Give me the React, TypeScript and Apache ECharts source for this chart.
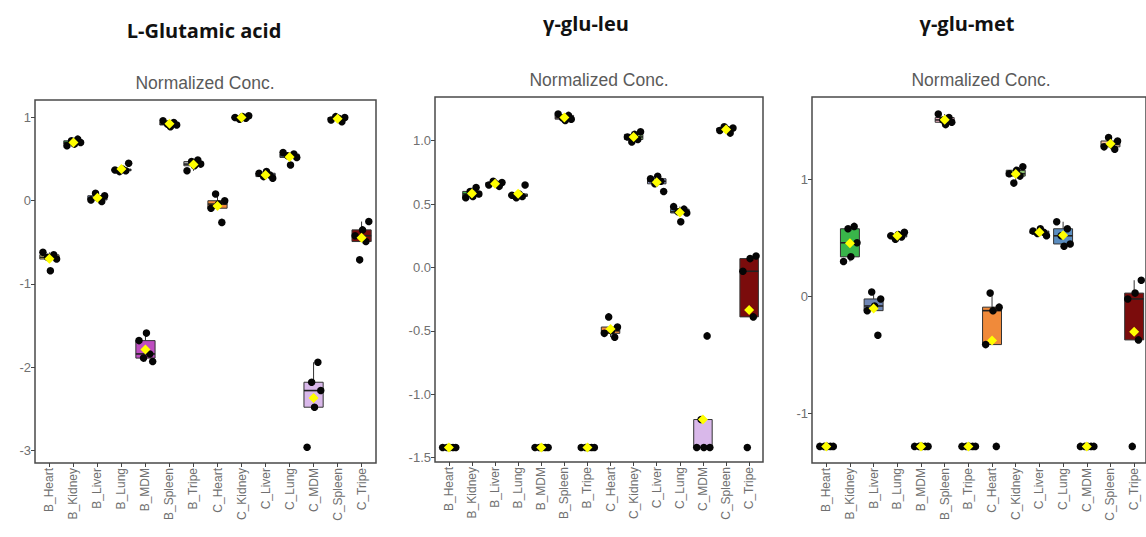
import React, { useEffect, useRef } from 'react';
import * as echarts from 'echarts';

// Tissue groups on the x axis (B = one animal group, C = the other)
const CATEGORIES = [
  'B_Heart', 'B_Kidney', 'B_Liver', 'B_Lung', 'B_MDM', 'B_Spleen', 'B_Tripe',
  'C_Heart', 'C_Kidney', 'C_Liver', 'C_Lung', 'C_MDM', 'C_Spleen', 'C_Tripe',
];

// Normalized concentrations, five replicates per tissue
const GLUTAMIC_ACID = [
  [-0.62, -0.65, -0.68, -0.70, -0.84],
  [0.74, 0.72, 0.70, 0.68, 0.66],
  [0.09, 0.06, 0.03, 0.01, -0.01],
  [0.45, 0.38, 0.37, 0.36, 0.35],
  [-1.59, -1.68, -1.84, -1.89, -1.93],
  [0.96, 0.94, 0.92, 0.91, 0.89],
  [0.49, 0.47, 0.44, 0.42, 0.36],
  [0.08, 0.0, -0.04, -0.09, -0.26],
  [1.02, 1.01, 1.0, 0.99, 0.98],
  [0.35, 0.33, 0.31, 0.29, 0.27],
  [0.58, 0.56, 0.54, 0.52, 0.43],
  [-1.94, -2.18, -2.28, -2.48, -2.96],
  [1.01, 1.0, 0.99, 0.97, 0.95],
  [-0.25, -0.35, -0.42, -0.49, -0.71],
];

const GLU_LEU = [
  [-1.42, -1.42, -1.42, -1.42, -1.42],
  [0.63, 0.6, 0.58, 0.56, 0.55],
  [0.68, 0.67, 0.66, 0.65, 0.64],
  [0.65, 0.58, 0.57, 0.56, 0.55],
  [-1.42, -1.42, -1.42, -1.42, -1.42],
  [1.21, 1.2, 1.18, 1.17, 1.16],
  [-1.42, -1.42, -1.42, -1.42, -1.42],
  [-0.39, -0.47, -0.5, -0.52, -0.55],
  [1.07, 1.05, 1.03, 1.01, 0.99],
  [0.72, 0.7, 0.68, 0.66, 0.6],
  [0.48, 0.46, 0.44, 0.43, 0.36],
  [-0.54, -1.2, -1.42, -1.42, -1.42],
  [1.11, 1.1, 1.09, 1.08, 1.06],
  [0.09, 0.07, -0.03, -0.39, -1.42],
];

const GLU_MET = [
  [-1.28, -1.28, -1.28, -1.28, -1.28],
  [0.6, 0.58, 0.46, 0.34, 0.3],
  [0.04, -0.02, -0.08, -0.12, -0.33],
  [0.55, 0.53, 0.52, 0.51, 0.49],
  [-1.28, -1.28, -1.28, -1.28, -1.28],
  [1.56, 1.53, 1.51, 1.49, 1.47],
  [-1.28, -1.28, -1.28, -1.28, -1.28],
  [0.03, -0.09, -0.12, -0.41, -1.28],
  [1.11, 1.08, 1.05, 1.03, 0.97],
  [0.58, 0.56, 0.55, 0.54, 0.52],
  [0.64, 0.58, 0.52, 0.45, 0.43],
  [-1.28, -1.28, -1.28, -1.28, -1.28],
  [1.36, 1.33, 1.3, 1.28, 1.26],
  [0.14, 0.03, -0.02, -0.37, -1.28],
];

const PANEL_TITLES = ['L-Glutamic acid', 'γ-glu-leu', 'γ-glu-met'];
const SUBTITLE = 'Normalized Conc.';

const Y_TICKS_GLUTAMIC = [-3, -2, -1, 0, 1];
const Y_TICKS_LEU = [-1.5, -1.0, -0.5, 0, 0.5, 1.0];
const Y_TICKS_MET = [-1, 0, 1];

// Box fill per tissue
const BOX_COLORS = [
  '#F2E07A', '#39B54A', '#6F86B5', '#A8D5E2', '#BE4DC0', '#F5B6C8', '#B8B8B8',
  '#F08A3A', '#8DC26F', '#9FA8DA', '#5A8DC0', '#D9B8EA', '#F7C6A3', '#7B0C0C',
];

// Horizontal jitter (fraction of a category band), cycled per replicate
const JITTER = [-0.27, 0.18, -0.08, 0.3, 0.04];

// Panel layout in pixels
const PANELS = [
  {
    values: GLUTAMIC_ACID, ticks: Y_TICKS_GLUTAMIC, decimals: 0, yMin: -3.15, yMax: 1.21,
    frame: { left: 35, top: 100, width: 341, height: 363 },
    titleX: 204, titleY: 30, subX: 205, subY: 83,
  },
  {
    values: GLU_LEU, ticks: Y_TICKS_LEU, decimals: 1, yMin: -1.535, yMax: 1.345,
    frame: { left: 435, top: 97, width: 328, height: 365 },
    titleX: 586, titleY: 23, subX: 599, subY: 80,
  },
  {
    values: GLU_MET, ticks: Y_TICKS_MET, decimals: 0, yMin: -1.422, yMax: 1.706,
    frame: { left: 812, top: 97, width: 340, height: 366 },
    titleX: 967, titleY: 23, subX: 981, subY: 80,
  },
];

const TEXT_FONT = '"Liberation Sans", Arial, sans-serif';
const TITLE_FONT = '"Open Sans", "Liberation Sans", sans-serif';

// Tukey box statistics (quantile type 7, 1.5 IQR whiskers)
function boxStats(vals: number[]) {
  const a = [...vals].sort((x, y) => x - y);
  const q = (p: number) => {
    const h = (a.length - 1) * p;
    const lo = Math.floor(h);
    const hi = Math.min(lo + 1, a.length - 1);
    return a[lo] + (h - lo) * (a[hi] - a[lo]);
  };
  const q1 = q(0.25);
  const med = q(0.5);
  const q3 = q(0.75);
  const iqr = q3 - q1;
  const low = Math.min(...a.filter((v) => v >= q1 - 1.5 * iqr));
  const high = Math.max(...a.filter((v) => v <= q3 + 1.5 * iqr));
  return [low, q1, med, q3, high];
}

function mean(vals: number[]) {
  return vals.reduce((s, v) => s + v, 0) / vals.length;
}

function buildOption() {
  const grid: any[] = [];
  const xAxis: any[] = [];
  const yAxis: any[] = [];
  const series: any[] = [];
  const graphic: any[] = [];

  PANELS.forEach((p, pi) => {
    const f = p.frame;
    const band = f.width / 14.2;
    const inset = band * 0.1;

    // frame grid carrying the border and the y axis
    grid.push({
      left: f.left, top: f.top, width: f.width, height: f.height,
      show: true, borderColor: '#4a4a4a', borderWidth: 1.5, backgroundColor: 'transparent',
    });
    // data grid, inset so the categories sit like a ggplot discrete scale
    grid.push({
      left: f.left + inset, top: f.top, width: f.width - 2 * inset, height: f.height,
      show: false,
    });

    const frameGrid = pi * 2;
    const dataGrid = pi * 2 + 1;

    xAxis.push({ type: 'value', gridIndex: frameGrid, show: false, min: 0, max: 1 });
    xAxis.push({
      type: 'category', gridIndex: dataGrid, data: CATEGORIES, boundaryGap: true,
      position: 'bottom',
      axisLine: { show: false, onZero: false },
      axisTick: { show: true, alignWithLabel: true, length: 4, lineStyle: { color: '#444', width: 1 } },
      axisLabel: {
        rotate: 90, interval: 0, fontSize: 12, color: '#707070', margin: 5, fontFamily: TEXT_FONT,
      },
      splitLine: { show: false },
    });
    xAxis.push({ type: 'value', gridIndex: dataGrid, show: false, min: -0.5, max: 13.5 });

    yAxis.push({
      type: 'value', gridIndex: frameGrid, min: p.yMin, max: p.yMax,
      axisLine: { show: false, onZero: false },
      axisTick: { show: true, length: 4, customValues: p.ticks, lineStyle: { color: '#444', width: 1 } },
      axisLabel: {
        customValues: p.ticks, fontSize: 13, color: '#707070', margin: 4, fontFamily: TEXT_FONT,
        formatter: (v: number) => v.toFixed(p.decimals),
      },
      splitLine: { show: false },
    });
    yAxis.push({ type: 'value', gridIndex: dataGrid, min: p.yMin, max: p.yMax, show: false });

    const catAxis = pi * 3 + 1;
    const jitterAxis = pi * 3 + 2;

    const boxData = p.values.map((vals, i) => [i, ...boxStats(vals)]);
    series.push({
      type: 'custom',
      xAxisIndex: catAxis,
      yAxisIndex: dataGrid,
      data: boxData,
      encode: { x: 0, y: [1, 2, 3, 4, 5] },
      silent: true,
      z: 2,
      renderItem: (params: any, api: any) => {
        const i = api.value(0);
        const x = api.coord([i, api.value(3)])[0];
        const yLow = api.coord([i, api.value(1)])[1];
        const yQ1 = api.coord([i, api.value(2)])[1];
        const yMed = api.coord([i, api.value(3)])[1];
        const yQ3 = api.coord([i, api.value(4)])[1];
        const yHigh = api.coord([i, api.value(5)])[1];
        const w = api.size([1, 0])[0] * 0.8;
        const stroke = { stroke: '#333333', lineWidth: 1 };
        return {
          type: 'group',
          children: [
            { type: 'line', shape: { x1: x, y1: yHigh, x2: x, y2: yQ3 }, style: stroke },
            { type: 'line', shape: { x1: x, y1: yLow, x2: x, y2: yQ1 }, style: stroke },
            {
              type: 'rect',
              shape: { x: x - w / 2, y: yQ3, width: w, height: yQ1 - yQ3 },
              style: { fill: BOX_COLORS[params.dataIndex], stroke: '#333333', lineWidth: 1 },
            },
            {
              type: 'line',
              shape: { x1: x - w / 2, y1: yMed, x2: x + w / 2, y2: yMed },
              style: { stroke: '#222222', lineWidth: 1.6 },
            },
          ],
        };
      },
    });

    const pointData: number[][] = [];
    p.values.forEach((vals, i) => {
      vals.forEach((v, k) => {
        pointData.push([i + JITTER[(i + k) % JITTER.length], v]);
      });
    });
    series.push({
      type: 'scatter',
      xAxisIndex: jitterAxis,
      yAxisIndex: dataGrid,
      data: pointData,
      symbol: 'circle',
      symbolSize: 7.5,
      itemStyle: { color: '#050505', opacity: 1 },
      silent: true,
      z: 3,
    });

    series.push({
      type: 'scatter',
      xAxisIndex: jitterAxis,
      yAxisIndex: dataGrid,
      data: p.values.map((vals, i) => [i, mean(vals)]),
      symbol: 'diamond',
      symbolSize: 10,
      itemStyle: { color: '#FFFF00', opacity: 1 },
      silent: true,
      z: 4,
    });

    graphic.push({
      type: 'text', x: p.titleX, y: p.titleY, silent: true,
      style: {
        text: PANEL_TITLES[pi], font: `bold 20px ${TITLE_FONT}`, fill: '#111111',
        align: 'center', verticalAlign: 'middle', textAlign: 'center', textVerticalAlign: 'middle',
      },
    });
    graphic.push({
      type: 'text', x: p.subX, y: p.subY, silent: true,
      style: {
        text: SUBTITLE, font: `17.5px ${TEXT_FONT}`, fill: '#5a5a5a',
        align: 'center', verticalAlign: 'middle', textAlign: 'center', textVerticalAlign: 'middle',
      },
    });
  });

  return {
    animation: false,
    backgroundColor: '#ffffff',
    grid,
    xAxis,
    yAxis,
    series,
    graphic,
  };
}

export default function App() {
  const ref = useRef<HTMLDivElement>(null);

  useEffect(() => {
    if (!ref.current) return;
    const chart = echarts.init(ref.current, null, { renderer: 'svg' });
    chart.setOption(buildOption());
    return () => chart.dispose();
  }, []);

  return (
    <div
      ref={ref}
      style={{ position: 'fixed', left: 0, top: 0, width: 1146, height: 537, background: '#fff' }}
    />
  );
}
